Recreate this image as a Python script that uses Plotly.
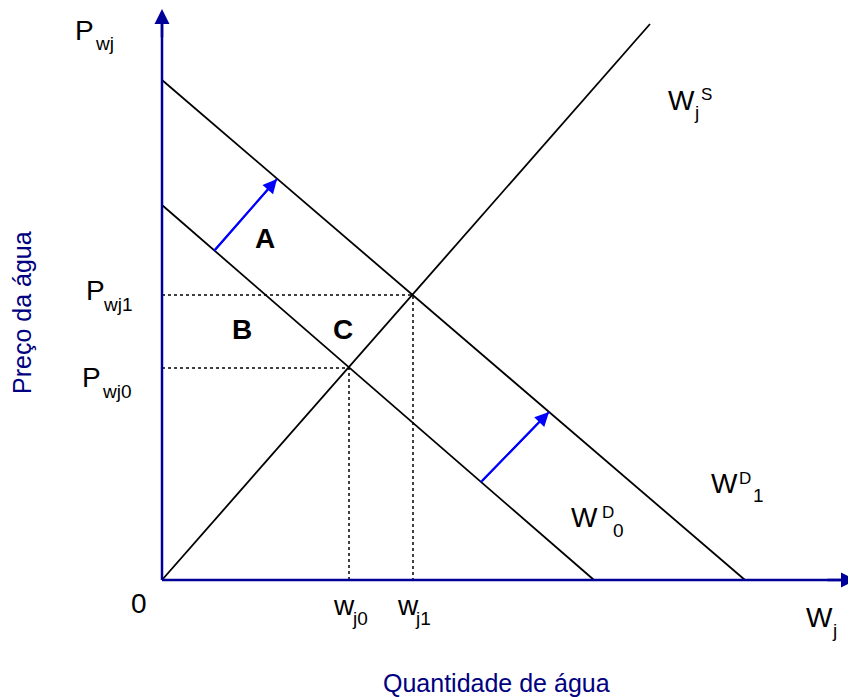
import plotly.graph_objects as go

# ---- data (quantity, price) in chart units ----
supply_q = [0, 48.8]
supply_p = [0, 55.6]
demand0_q = [0, 43.2]
demand0_p = [37.5, 0]
demand1_q = [0, 58.3]
demand1_p = [50.0, 0]
eq_q = [18.7, 25.1]      # w_j0, w_j1
eq_p = [21.2, 28.5]      # P_wj0, P_wj1
shift_from_q = [5.2, 31.9]
shift_from_p = [32.9, 9.8]
shift_to_q = [11.5, 38.7]
shift_to_p = [40.1, 16.8]
axis_q_max = 69.4
axis_p_max = 57.1
area_labels = ["A", "B", "C"]
area_q = [10.3, 8.0, 18.1]
area_p = [34.2, 25.1, 25.1]

NAVY = "#000099"
BLUE = "#0000FF"
FONT = "Liberation Sans, Arial, sans-serif"

fig = go.Figure()

# guide (dotted) lines
gx, gy = [], []
for q, p in zip(eq_q, eq_p):
    gx += [0, q, q, None]
    gy += [p, p, 0, None]
fig.add_trace(go.Scatter(x=gx, y=gy, mode="lines",
                         line=dict(color="black", width=1.5, dash="dot"),
                         hoverinfo="skip"))

for xs, ys in [(supply_q, supply_p), (demand0_q, demand0_p), (demand1_q, demand1_p)]:
    fig.add_trace(go.Scatter(x=xs, y=ys, mode="lines",
                             line=dict(color="black", width=1.8),
                             hoverinfo="skip"))

# axes lines
fig.add_trace(go.Scatter(x=[0, 0, None, 0, axis_q_max - 0.6],
                         y=[axis_p_max - 0.6, 0, None, 0, 0], mode="lines",
                         line=dict(color=NAVY, width=2.5), hoverinfo="skip"))

# shift arrows (lines)
sx, sy = [], []
for a, b, c, d in zip(shift_from_q, shift_from_p, shift_to_q, shift_to_p):
    sx += [a, c, None]
    sy += [b, d, None]
fig.add_trace(go.Scatter(x=sx, y=sy, mode="lines",
                         line=dict(color=BLUE, width=2), hoverinfo="skip"))

annotations = []
# arrow heads
annotations.append(dict(x=0, y=axis_p_max, ax=0, ay=axis_p_max - 3, xref="x", yref="y",
                        axref="x", ayref="y", text="", showarrow=True, arrowhead=2,
                        arrowsize=1.2, arrowwidth=2.5, arrowcolor=NAVY, standoff=0, startstandoff=0))
annotations.append(dict(x=axis_q_max, y=0, ax=axis_q_max - 3, ay=0, xref="x", yref="y",
                        axref="x", ayref="y", text="", showarrow=True, arrowhead=2,
                        arrowsize=1.2, arrowwidth=2.5, arrowcolor=NAVY, standoff=0, startstandoff=0))
for a, b, c, d in zip(shift_from_q, shift_from_p, shift_to_q, shift_to_p):
    annotations.append(dict(x=c, y=d, ax=a, ay=b, xref="x", yref="y", axref="x", ayref="y",
                            text="", showarrow=True, arrowhead=2, arrowsize=1.4,
                            arrowwidth=2, arrowcolor=BLUE, standoff=0, startstandoff=0))


def px2x(px):
    return (px - 162) / 10.0


def py2y(py):
    return (580 - py) / 10.0


def txt(s, left, base, size, bold=False, color="black"):
    t = "<b>%s</b>" % s if bold else s
    annotations.append(dict(x=px2x(left), y=py2y(base - 0.35 * size), xref="x", yref="y",
                            text=t, showarrow=False, xanchor="left", yanchor="middle",
                            borderpad=0, font=dict(family=FONT, size=size, color=color)))


M, S, U = 28, 19, 17
txt("P", 74, 40, M); txt("wj", 94, 50, S)
txt("P", 85, 300, M); txt("wj1", 102, 311, S)
txt("P", 81, 387, M); txt("wj0", 101, 398, S)
txt("0", 130, 613, M)
txt("w", 332, 615, M); txt("j0", 351, 625, S)
txt("w", 396, 615, M); txt("j1", 414, 625, S)
txt("W", 805, 627, M); txt("j", 831, 637, S)
txt("W", 667, 110, M); txt("j", 693, 119, S); txt("S", 700, 100, U)
txt("W", 710, 493, M); txt("D", 738, 484, U); txt("1", 752, 502, S)
txt("W", 570, 527, M); txt("D", 601, 518, U); txt("0", 612, 537, S)

for lab, q, p in zip(area_labels, area_q, area_p):
    annotations.append(dict(x=q, y=p, xref="x", yref="y", text="<b>%s</b>" % lab,
                            showarrow=False, font=dict(family=FONT, size=M, color="black")))

# axis titles
annotations.append(dict(x=px2x(496), y=py2y(683), xref="x", yref="y", text="Quantidade de água",
                        showarrow=False, font=dict(family=FONT, size=25, color="#000080")))
annotations.append(dict(x=px2x(22), y=py2y(313), xref="x", yref="y", text="Preço da água",
                        showarrow=False, textangle=-90,
                        font=dict(family=FONT, size=25, color="#000080")))

# the page body has an 8px margin, so the axis ranges are offset to keep the
# drawing where the reference has it
fig.update_layout(
    width=856, height=697,
    margin=dict(l=0, r=0, t=0, b=0),
    paper_bgcolor="white", plot_bgcolor="white",
    showlegend=False,
    xaxis=dict(visible=False, range=[px2x(8), px2x(864)], fixedrange=True),
    yaxis=dict(visible=False, range=[py2y(705), py2y(8)], fixedrange=True),
    annotations=annotations,
)

fig.write_html("out.html")
